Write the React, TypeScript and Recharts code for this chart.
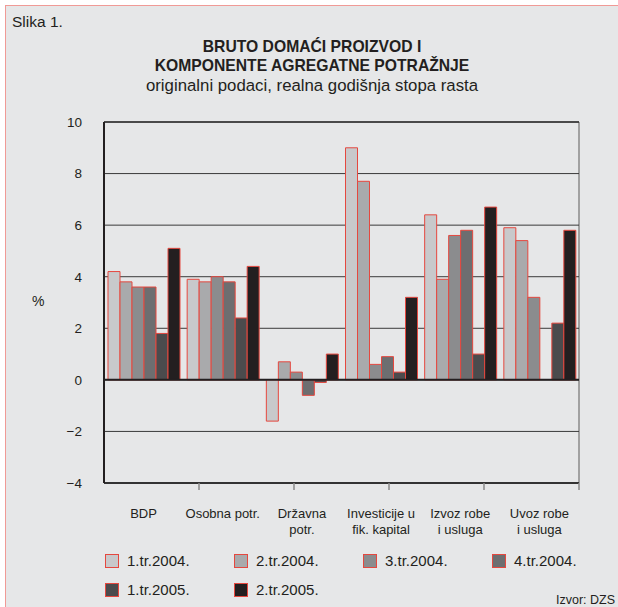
import React from "react";
import { BarChart, Bar, XAxis, YAxis, CartesianGrid, ReferenceLine } from "recharts";

const FONT = "'Liberation Sans', Arial, Helvetica, sans-serif";
const INK = "#231f20";
const EDGE = "#e5483f";

const categories = [
  "BDP",
  "Osobna potr.",
  "Državna\npotr.",
  "Investicije u\nfik. kapital",
  "Izvoz robe\ni usluga",
  "Uvoz robe\ni usluga",
];
const seriesNames = ["1.tr.2004.", "2.tr.2004.", "3.tr.2004.", "4.tr.2004.", "1.tr.2005.", "2.tr.2005."];
const q1_2004 = [4.2, 3.9, -1.6, 9.0, 6.4, 5.9];
const q2_2004 = [3.8, 3.8, 0.7, 7.7, 3.9, 5.4];
const q3_2004 = [3.6, 4.0, 0.3, 0.6, 5.6, 3.2];
const q4_2004 = [3.6, 3.8, -0.6, 0.9, 5.8, null];
const q1_2005 = [1.8, 2.4, -0.1, 0.3, 1.0, 2.2];
const q2_2005 = [5.1, 4.4, 1.0, 3.2, 6.7, 5.8];
const yTicks = [-4, -2, 0, 2, 4, 6, 8, 10];
const boundaryTicks = [0, 1, 2, 3, 4, 5, 6];

const seriesValues = [q1_2004, q2_2004, q3_2004, q4_2004, q1_2005, q2_2005];
const fills = ["#c8c9cb", "#a9aaac", "#8b8c8e", "#6d6e70", "#4b4b4d", "#231f20"];

const data = categories.map((name, i) => {
  const row: Record<string, any> = { name };
  seriesValues.forEach((vals, s) => {
    row["s" + s] = vals[i];
  });
  return row;
});

const CategoryTick = ({ x, y, payload }: any) => {
  const lines = String(payload.value).split("\n");
  return (
    <text x={x} y={y} textAnchor="middle" fill={INK} fontSize={13} fontFamily={FONT}>
      {lines.map((l, i) => (
        <tspan key={i} x={x} dy={i === 0 ? 33 : 16}>
          {l}
        </tspan>
      ))}
    </text>
  );
};

const fmt = (v: number) => (v < 0 ? "\u2212" + Math.abs(v) : String(v));

export default function App() {
  return (
    <div style={{ position: "absolute", left: 0, top: 0, width: 618, height: 607, background: "#fff", overflow: "hidden", fontFamily: FONT, color: INK }}>
      <div
        style={{
          position: "absolute",
          left: 5,
          top: 5,
          width: 640,
          height: 640,
          background: "#e6e7e8",
          borderLeft: "1.5px solid #f09a96",
          borderTop: "1.5px solid #f09a96",
        }}
      />
      <div style={{ position: "absolute", left: 12, top: 13, fontSize: 15.5 }}>Slika 1.</div>
      <div style={{ position: "absolute", left: 0, width: 624, top: 37, textAlign: "center", fontSize: 15.7, fontWeight: 700, lineHeight: "19px" }}>
        BRUTO DOMAĆI PROIZVOD I
        <br />
        KOMPONENTE AGREGATNE POTRAŽNJE
      </div>
      <div style={{ position: "absolute", left: 0, width: 624, top: 76, textAlign: "center", fontSize: 16.8 }}>
        originalni podaci, realna godišnja stopa rasta
      </div>
      <div style={{ position: "absolute", left: 32, top: 293, fontSize: 14 }}>%</div>

      <div style={{ position: "absolute", left: 0, top: 0 }}>
        <BarChart
          width={618}
          height={607}
          data={data}
          barSize={12}
          barGap={0}
          margin={{ top: 122, right: 39, left: 0, bottom: 73 }}
        >
          <XAxis
            xAxisId="b"
            type="number"
            domain={[0, 6]}
            ticks={boundaryTicks}
            height={1}
            tick={false}
            axisLine={false}
            tickLine={false}
          />
          <XAxis
            xAxisId="a"
            dataKey="name"
            height={50}
            axisLine={false}
            tickLine={false}
            tickSize={0}
            tick={<CategoryTick />}
            interval={0}
          />
          <YAxis
            domain={[-4, 10]}
            ticks={yTicks}
            width={104}
            tickLine={false}
            tickSize={0}
            tickMargin={22}
            tickFormatter={fmt}
            axisLine={{ stroke: INK, strokeWidth: 2 }}
            tick={{ fill: INK, fontSize: 13.5, fontFamily: FONT }}
          />
          <CartesianGrid xAxisId="b" horizontal={false} stroke="#8a8a8a" strokeWidth={1.5} />
          <CartesianGrid xAxisId="b" vertical={false} stroke="#3a3a3a" strokeWidth={1} />
          {seriesNames.map((n, s) => (
            <Bar
              key={n}
              xAxisId="a"
              dataKey={"s" + s}
              name={n}
              fill={fills[s]}
              stroke={EDGE}
              strokeWidth={1}
              isAnimationActive={false}
            />
          ))}
          <ReferenceLine xAxisId="a" y={0} stroke={INK} strokeWidth={2} />
          <ReferenceLine xAxisId="a" y={10} stroke="#333" strokeWidth={1.5} />
          <ReferenceLine xAxisId="a" y={-4} stroke="#333" strokeWidth={2} />
          <ReferenceLine xAxisId="b" x={6} stroke="#555" strokeWidth={2} />
          {boundaryTicks.slice(1).map((b) => (
            <ReferenceLine
              key={b}
              xAxisId="b"
              segment={[
                { x: b, y: -4 },
                { x: b, y: -4.27 },
              ]}
              ifOverflow="visible"
              stroke={b === 6 ? "#555" : "#8a8a8a"}
              strokeWidth={b === 6 ? 2 : 1.5}
            />
          ))}
        </BarChart>
      </div>

      {seriesNames.map((n, s) => {
        const col = s % 4;
        const row = Math.floor(s / 4);
        return (
          <div
            key={n}
            style={{
              position: "absolute",
              left: 105 + col * 129,
              top: 552 + row * 29,
              display: "flex",
              alignItems: "center",
              fontSize: 15,
              lineHeight: "18px",
            }}
          >
            <span
              style={{
                display: "inline-block",
                width: 12,
                height: 12,
                background: fills[s],
                border: "1px solid " + EDGE,
                marginRight: 8,
              }}
            />
            {n}
          </div>
        );
      })}
      <div style={{ position: "absolute", right: 3, top: 593, fontSize: 12.5 }}>Izvor: DZS</div>
    </div>
  );
}
